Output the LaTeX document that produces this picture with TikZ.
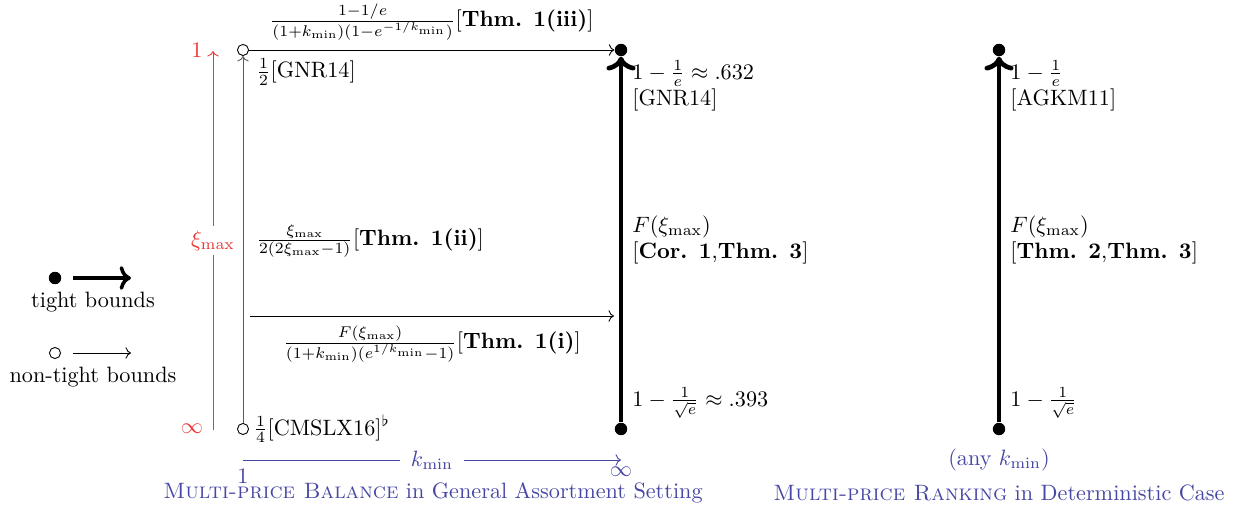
\documentclass[tikz,border=0pt]{standalone}
\usepackage{amsmath,amssymb}
\definecolor{bdred}{RGB}{235,55,55}
\definecolor{bdblue}{RGB}{70,70,165}
\definecolor{bdgray}{RGB}{90,90,90}
\usetikzlibrary{arrows.meta,positioning,calc}

\begin{document}
\begin{tikzpicture}[
  x=0.45pt, y=-0.45pt,
  tightpt/.style={circle, fill=black, inner sep=0pt, minimum size=5.6pt},
  loosept/.style={circle, draw=black, fill=white, thin, inner sep=0pt, minimum size=5pt},
  tightarr/.style={->, line width=2.1pt},
  loosearr/.style={->, thin},
  bndlbl/.style={anchor=west, align=left, inner sep=0pt},
  axlbl/.style={text=bdblue}
]
\useasboundingbox (0,0) rectangle (1234,508);

% legend
\node[tightpt] (lt) at (55,278) {};
\coordinate (lta) at (73,278);
\coordinate (ltb) at (131,278);
\draw[->, line width=1.6pt] (lta) -- (ltb);
\node (ltxt) at (93,302) {tight bounds};
\node[loosept] (ln) at (55,353) {};
\coordinate (lna) at (73,353);
\coordinate (lnb) at (131,353);
\draw[loosearr] (lna) -- (lnb);
\node (lntxt) at (93,377) {non-tight bounds};

% xi_max axis
\coordinate (xlo) at (213,430);
\coordinate (xhi) at (213,51);
\draw[->, bdred, thin] (xlo) -- node[fill=white, inner sep=2pt, text=bdred] (xlbl) {$\xi_{\max}$} (xhi);
\node[text=bdred] (xone) at (197,50) {$1$};
\node[text=bdred] (xinf) at (192,429) {$\infty$};

% multi-price balance
\node[loosept] (a1) at (243,429) {};
\node[loosept] (a2) at (243,50) {};
\node[tightpt] (b1) at (621,429) {};
\node[tightpt] (b2) at (621,50) {};

\draw[->, thin, bdgray] (a1) -- (a2);
\draw[tightarr] (b1) -- (b2);
\draw[loosearr] (a2) -- node[above=1pt] (t3) {$\frac{1-1/e}{(1+k_{\min})(1-e^{-1/k_{\min}})}$[\textbf{Thm. 1(iii)}]} (b2);

\coordinate (m1) at (250,316);
\coordinate (m2) at (614,316);
\draw[loosearr] (m1) -- node[below=1pt] (t1) {$\frac{F(\xi_{\max})}{(1+k_{\min})(e^{1/k_{\min}}-1)}$[\textbf{Thm. 1(i)}]} (m2);

\node[bndlbl] (t2) at (256,241) {$\frac{\xi_{\max}}{2(2\xi_{\max}-1)}$[\textbf{Thm. 1(ii)}]};
\node[bndlbl] (g1) at (256,72) {$\frac12$[GNR14]};
\node[bndlbl] (c1) at (253,429) {$\frac14$[CMSLX16]$^\flat$};

\node[bndlbl] (b2l) at (632,86) {$1-\frac1e\approx.632$\\{[}GNR14{]}};
\node[bndlbl] (bml) at (632,240) {$F(\xi_{\max})$\\{[}\textbf{Cor. 1},\textbf{Thm. 3}{]}};
\node[bndlbl] (b1l) at (632,403) {$1-\frac{1}{\sqrt{e}}\approx.393$};

% k_min axis
\coordinate (klo) at (243,460);
\coordinate (khi) at (621,460);
\draw[->, bdblue, thin] (klo) -- node[fill=white, inner xsep=5pt, inner ysep=2pt, axlbl] (klbl) {$k_{\min}$} (khi);
\node[axlbl] (kone) at (243,476) {$1$};
\node[axlbl] (kinf) at (621,472) {$\infty$};
\node[axlbl] (ttl1) at (433,493) {\textsc{Multi-price Balance} in General Assortment Setting};

% multi-price ranking
\node[tightpt] (r1) at (999,429) {};
\node[tightpt] (r2) at (999,50) {};
\draw[tightarr] (r1) -- (r2);
\node[bndlbl] (r2l) at (1010,86) {$1-\frac1e$\\{[}AGKM11{]}};
\node[bndlbl] (rml) at (1010,240) {$F(\xi_{\max})$\\{[}\textbf{Thm. 2},\textbf{Thm. 3}{]}};
\node[bndlbl] (r1l) at (1010,403) {$1-\frac{1}{\sqrt{e}}$};
\node[axlbl] (rany) at (999,460) {(any $k_{\min}$)};
\node[axlbl] (ttl2) at (999,493) {\textsc{Multi-price Ranking} in Deterministic Case};
\end{tikzpicture}
\end{document}
